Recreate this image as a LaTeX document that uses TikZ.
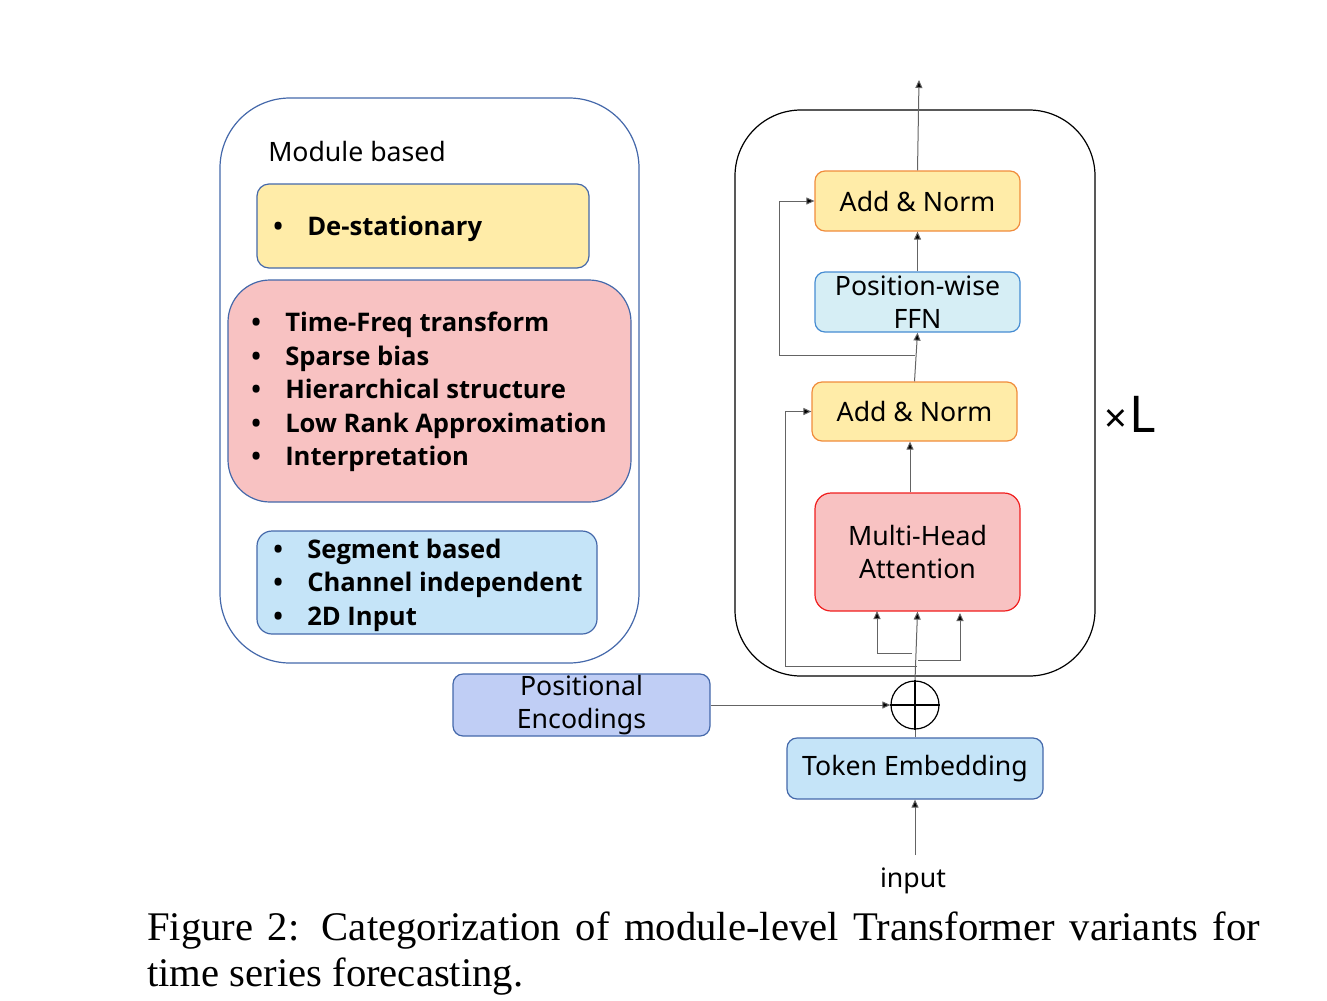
\documentclass[tikz,border=0pt]{standalone}
\usepackage{fontspec}
\setmainfont{Liberation Serif}
\newfontfamily\uifont{Noto Sans}
\newfontfamily\uibf{Open Sans}
\usetikzlibrary{arrows.meta}
\definecolor{frameblue}{RGB}{68,104,170}
\definecolor{yfill}{RGB}{255,236,168}
\definecolor{pfill}{RGB}{248,194,194}
\definecolor{bfill}{RGB}{197,228,248}
\definecolor{ffnfill}{RGB}{214,238,245}
\definecolor{ffnline}{RGB}{70,140,210}
\definecolor{orangeline}{RGB}{240,140,60}
\definecolor{redline}{RGB}{240,30,30}
\definecolor{pefill}{RGB}{192,206,245}
\definecolor{arrgray}{RGB}{100,100,100}
\def\px{*0.75pt}
\begin{document}
\begin{tikzpicture}[x=0.75pt,y=-0.75pt,
  every node/.style={inner sep=0pt, font=\uifont\fontsize{20}{25}\selectfont},
  box/.style={draw, line width=0.9pt, rounded corners=10\px, align=center},
  bold/.style={font=\uibf\bfseries\fontsize{19.2}{25.2}\selectfont, align=left, anchor=west},
  arr/.style={draw=arrgray, line width=0.75pt, -{Triangle[length=8\px,width=7\px,fill=black]}},
  ln/.style={draw=arrgray, line width=0.75pt}
]
\useasboundingbox (0,0) rectangle (1327,1000);
\newcommand{\bl}{\makebox[25.5pt][l]{\textbullet}}
% left categorisation box
\node[box, draw=frameblue, rounded corners=70\px, minimum width=419\px, minimum height=565\px] (mod) at (429.5,380.5) {};
\node[anchor=west] (modt) at (268,151) {Module based};
\node[box, draw=frameblue, fill=yfill, rounded corners=12\px, minimum width=332\px, minimum height=84\px] (ds) at (423,226) {};
\node[bold] (dst) at (273,229) {\bl De-stationary};
\node[box, draw=frameblue, fill=pfill, rounded corners=42\px, minimum width=403\px, minimum height=222\px] (pk) at (429.5,391) {};
\node[bold] (pkt) at (251,392) {\bl Time-Freq transform\\ \bl Sparse bias\\ \bl Hierarchical structure\\ \bl Low Rank Approximation\\ \bl Interpretation};
\node[box, draw=frameblue, fill=bfill, rounded corners=15\px, minimum width=340\px, minimum height=103\px] (sb) at (427,582.5) {};
\node[bold] (sbt) at (273,585) {\bl Segment based\\ \bl Channel independent\\ \bl 2D Input};
% right transformer block
\node[box, draw=black, rounded corners=66\px, minimum width=360\px, minimum height=566\px] (blk) at (915,393) {};
\node[box, draw=orangeline, fill=yfill, minimum width=205\px, minimum height=60\px] (an1) at (917.5,201) {Add \& Norm};
\node[box, draw=ffnline, fill=ffnfill, minimum width=205\px, minimum height=60\px] (ffn) at (917.5,302) {Position-wise\\FFN};
\node[box, draw=orangeline, fill=yfill, minimum width=205\px, minimum height=59\px] (an2) at (914.5,411.5) {Add \& Norm};
\node[box, draw=redline, fill=pfill, rounded corners=16\px, minimum width=205\px, minimum height=118\px] (mha) at (917.5,552) {Multi-Head\\Attention};
\node[anchor=base west] (xl) at (1104,432) {\fontsize{30}{30}\selectfont ×\kern2pt\fontsize{38}{38}\selectfont L};
\node[box, draw=frameblue, fill=pefill, minimum width=257\px, minimum height=62\px] (pe) at (581.5,705) {Positional\\Encodings};
\node[circle, draw=black, line width=0.9pt, minimum size=48\px] (plus) at (915,705) {};
\node[box, draw=frameblue, fill=bfill, minimum width=256\px, minimum height=61\px] (tok) at (915,768.5) {Token Embedding};
\node (in) at (913,881) {input};
% connectors
\coordinate (out) at (919,80);
\draw[arr] (an1.north) -- (out);
\draw[arr] (ffn.north) -- (an1.south);
\draw[arr] (an2.north) -- (ffn.south);
\coordinate (r1) at (915,355);
\coordinate (k1) at (779,355);
\draw[arr] (r1) -- (k1) |- (an1.west);
\draw[arr] (mha.north -| 910,0) -- (an2.south -| 910,0);
\coordinate (r2) at (917,666);
\coordinate (k2) at (785,666);
\draw[arr] (r2) -- (k2) |- (an2.west);
\coordinate (lb) at (912,653);
\coordinate (mhaL) at (877,611);
\draw[arr] (lb) -| (mhaL);
\coordinate (rb) at (918,660);
\coordinate (mhaR) at (960,613);
\draw[arr] (rb) -| (mhaR);
\draw[arr] (plus.north) -- (mha.south);
\draw[line width=0.9pt] (plus.north) -- (plus.south) (plus.west) -- (plus.east);
\draw[arr] (pe.east) -- (plus.west);
\draw[ln] (tok.north) -- (plus.south);
\coordinate (ins) at (915,855);
\draw[arr] (ins) -- (tok.south);
% caption
\node[anchor=north west, text width=1113\px, align=justify, font=\rmfamily\fontsize{30.5}{34}\selectfont] (cap) at (147,912)
{Figure 2: Categorization of module-level Transformer variants for\linebreak time series forecasting.};
\end{tikzpicture}
\end{document}
